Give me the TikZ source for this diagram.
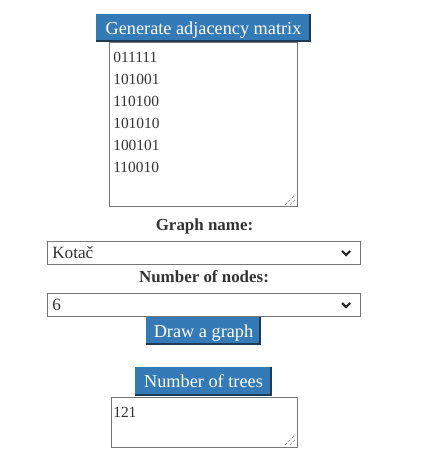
\documentclass[tikz,border=0pt]{standalone}
\usepackage{fontspec}
\setmainfont{Liberation Serif}
\definecolor{btnblue}{HTML}{337AB7}
\definecolor{btndark}{HTML}{1D3A57}
\definecolor{boxgray}{HTML}{767676}
\definecolor{txt}{HTML}{333333}
\begin{document}
\begin{tikzpicture}[x=0.75pt,y=-0.75pt,
  btnbox/.style={fill=btnblue, draw=none, inner sep=0pt},
  btntext/.style={text=white, inner sep=0pt, font=\fontsize{13.7}{16}\selectfont},
  field/.style={draw=boxgray, line width=0.75pt, fill=white, inner sep=0pt},
  fieldtext/.style={text=txt, inner sep=0pt, anchor=base west, font=\fontsize{11.6}{14}\selectfont},
  seltext/.style={text=txt, inner sep=0pt, anchor=base west, font=\fontsize{12.9}{15}\selectfont},
  labeltext/.style={text=txt, inner sep=0pt, anchor=base, font=\bfseries\fontsize{12.7}{15}\selectfont},
  btnedge/.style={draw=btndark, line width=1.5pt},
  chev/.style={draw=black!85, line width=1.6pt},
  grip/.style={draw=boxgray!80, line width=0.75pt, dash pattern=on 0.75pt off 0.75pt}]
\useasboundingbox[fill=white] (0,0) rectangle (440,473);

% Generate adjacency matrix button
\node[btnbox, minimum width=215*0.75pt, minimum height=28*0.75pt] (b1) at (203.5,28) {};
\draw[btnedge] (b1.north east) ++(-1,0) -- ++(0,27) -- ++(-214,0);
\node[btntext, anchor=base] (b1t) at (203.5,35) {Generate adjacency matrix};

% adjacency textarea
\node[field, minimum width=188*0.75pt, minimum height=164*0.75pt] (ta1) at (203,125) {};
\node[fieldtext] (r1) at (113,63) {011111};
\node[fieldtext] (r2) at (113,85) {101001};
\node[fieldtext] (r3) at (113,107) {110100};
\node[fieldtext] (r4) at (113,129) {101010};
\node[fieldtext] (r5) at (113,151) {100101};
\node[fieldtext] (r6) at (113,173) {110010};
\draw[grip] (285,205) -- (295,195);
\draw[grip] (290,205) -- (295,200);

% Graph name
\node[labeltext] (l1) at (204.5,231) {Graph name:};
\node[field, minimum width=313*0.75pt, minimum height=22*0.75pt] (s1) at (203.5,253) {};
\node[seltext] (s1t) at (52,258) {Kotač};
\draw[chev] (342,251) -- (346,255) -- (350,251);

% Number of nodes
\node[labeltext] (l2) at (204,282) {Number of nodes:};
\node[field, minimum width=313*0.75pt, minimum height=23*0.75pt] (s2) at (203.5,304.5) {};
\node[seltext] (s2t) at (52,310) {6};
\draw[chev] (342,303) -- (346,307) -- (350,303);

% Draw a graph button
\node[btnbox, minimum width=115*0.75pt, minimum height=28*0.75pt] (b2) at (203.5,331) {};
\draw[btnedge] (b2.north east) ++(-1,0) -- ++(0,27) -- ++(-114,0);
\node[btntext, anchor=base] (b2t) at (203.5,337) {Draw a graph};

% Number of trees button
\node[btnbox, minimum width=137*0.75pt, minimum height=29*0.75pt] (b3) at (203.5,381.5) {};
\draw[btnedge] (b3.north east) ++(-1,0) -- ++(0,28) -- ++(-136,0);
\node[btntext, anchor=base] (b3t) at (203.5,387) {Number of trees};

% result textarea
\node[field, minimum width=186*0.75pt, minimum height=50*0.75pt] (ta2) at (204,422) {};
\node[fieldtext] (res) at (113,417) {121};
\draw[grip] (285,445) -- (295,435);
\draw[grip] (290,445) -- (295,440);
\end{tikzpicture}
\end{document}
